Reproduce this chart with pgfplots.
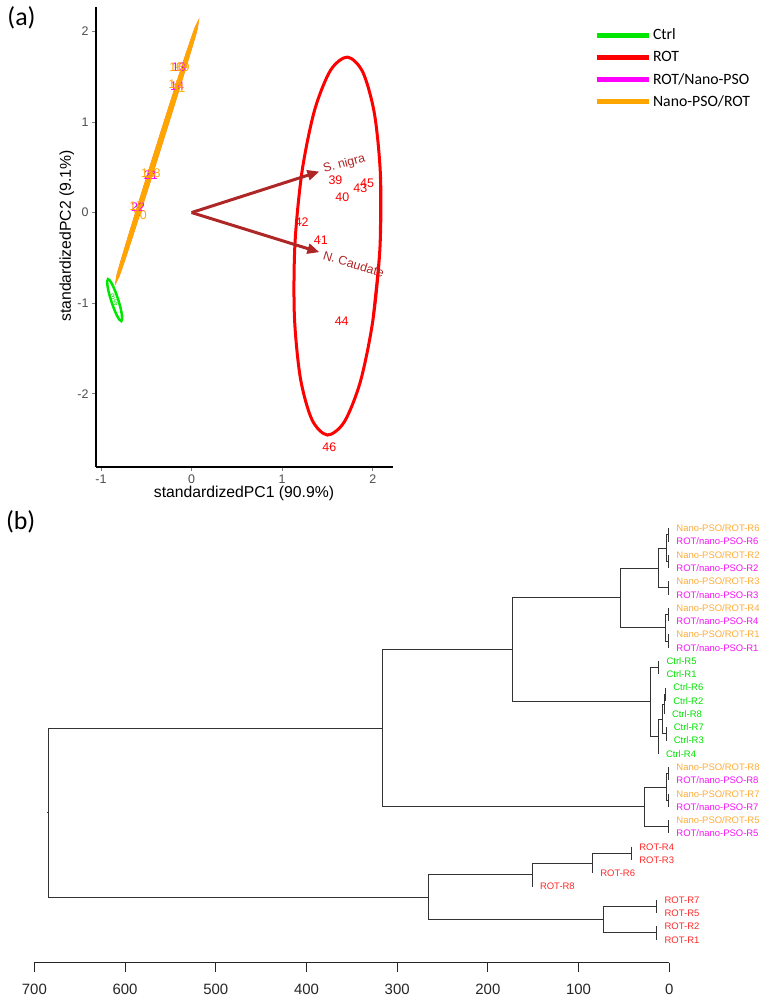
\documentclass[border=0pt]{standalone}
\usepackage{pgfplots}
\pgfplotsset{compat=1.18}
\usepackage{fontspec}
\setmainfont{Liberation Sans}
\newfontfamily\calibri{Carlito}
\usetikzlibrary{arrows.meta}
\definecolor{cgreen}{RGB}{0,230,0}
\definecolor{cred}{RGB}{255,0,0}
\definecolor{cmag}{RGB}{255,0,255}
\definecolor{corange}{RGB}{255,165,0}
\definecolor{cbrown}{RGB}{175,38,38}
\definecolor{lorange}{RGB}{255,172,55}
\definecolor{lmag}{RGB}{245,20,245}
\definecolor{lgreen}{RGB}{0,225,0}
\definecolor{lred}{RGB}{255,40,40}
\newcommand{\fs}[1]{\fontsize{#1}{#1}\selectfont}
\newcommand{\lf}[4]{\node[anchor=base west, xshift=7.5bp, yshift=-3.4bp, inner sep=0pt, text=#3, font=\fs{9.5}] at (axis cs:#1,#2) {#4};}
\pgfplotsset{
  lbl/.style={only marks, mark=*, mark size=0.01pt, mark options={draw=none,fill=none}, forget plot,
    nodes near coords, point meta=explicit symbolic,
    every node near coord/.append style={anchor=center, font=\fs{12.5}, text=#1, inner sep=0pt}},
  dl/.style={black!80, line width=1bp, forget plot, mark=none},
}
\begin{document}
\begin{tikzpicture}
\useasboundingbox (0,0) rectangle (767bp,-1004bp);
\node[font=\calibri\fs{26}] at (21.5bp,-18.3bp) {(a)};
\node[font=\calibri\fs{26}] at (20.7bp,-521.7bp) {(b)};
\node[font=\fs{15.8}] at (244bp,-493bp) {standardizedPC1 (90.9\%)};
\node[font=\fs{15.8}, rotate=90] at (66.7bp,-236bp) {standardizedPC2 (9.1\%)};

\begin{axis}[
  at={(96bp,-467bp)}, anchor=south west,
  scale only axis, width=296.7bp, height=460bp,
  xmin=-1.055, xmax=2.22, ymin=-2.81, ymax=2.27,
  enlargelimits=false, clip=false,
  axis x line=bottom, axis y line=left,
  axis line style={black, line width=1.1bp, -},
  xtick={-1,0,1,2}, xticklabels={-1,0,1,2},
  ytick={-2,-1,0,1,2}, yticklabels={-2,-1,0,1,2},
  tick align=outside, major tick length=4bp,
  tick style={black!50, line width=0.8bp},
  ticklabel style={font=\fs{12.5}, text=black!70},
  legend image code/.code={\draw[#1] (0bp,0bp) -- (52bp,0bp);},
  legend cell align=left,
  legend style={draw=none, fill=none, at={(1.678,0.957)}, anchor=north west,
    font=\calibri\fs{15.8}, row sep=6bp, inner sep=0pt},
]
% ellipses
\addplot[cgreen, line width=2.5bp, smooth, forget plot] coordinates {
(-0.843,-0.8676) (-0.8119,-0.9551) (-0.7864,-1.0444) (-0.7705,-1.1219) (-0.7665,-1.1758)
(-0.7751,-1.198) (-0.7949,-1.185) (-0.8229,-1.1387) (-0.855,-1.0664) (-0.8861,-0.9789)
(-0.9116,-0.8896) (-0.9275,-0.8121) (-0.9315,-0.7582) (-0.9229,-0.736) (-0.9031,-0.749)
(-0.8751,-0.7953) (-0.843,-0.8676) (-0.8119,-0.9551) (-0.7864,-1.0444)};
\addplot[cred, line width=3bp, smooth, forget plot] coordinates {
(2.085,0.406) (2.079,-0.395) (2.001,-1.192) (1.864,-1.864) (1.688,-2.308) (1.500,-2.457)
(1.329,-2.288) (1.201,-1.828) (1.135,-1.146) (1.141,-0.345) (1.219,0.452) (1.356,1.124)
(1.532,1.568) (1.720,1.717) (1.891,1.549) (2.019,1.088) (2.085,0.406) (2.079,-0.395) (2.001,-1.192)};
\addplot[cmag, line width=2.5bp, smooth, forget plot] coordinates {
(-0.2006,1.194) (-0.3662,0.6655) (-0.534,0.1377) (-0.6783,-0.309) (-0.7774,-0.6067) (-0.816,-0.710)
(-0.7884,-0.6033) (-0.6985,-0.3026) (-0.5604,0.1461) (-0.3948,0.6745) (-0.227,1.2023) (-0.0827,1.6516)
(0.0164,1.9467) (0.055,2.050) (0.0274,1.943) (-0.0625,1.643) (-0.2006,1.194) (-0.3662,0.6655) (-0.534,0.1377)};
\addplot[corange, line width=3bp, smooth, forget plot] coordinates {
(-0.2006,1.194) (-0.3662,0.6655) (-0.534,0.1377) (-0.6783,-0.309) (-0.7774,-0.6067) (-0.816,-0.710)
(-0.7884,-0.6033) (-0.6985,-0.3026) (-0.5604,0.1461) (-0.3948,0.6745) (-0.227,1.2023) (-0.0827,1.6516)
(0.0164,1.9467) (0.055,2.050) (0.0274,1.943) (-0.0625,1.643) (-0.2006,1.194) (-0.3662,0.6655) (-0.534,0.1377)};
% point labels
\addplot[lbl=cmag] table[meta=l] {
x y l
-0.14 1.600 13
-0.16 1.400 14
-0.45 0.410 21
-0.59 0.060 22
};
\addplot[lbl=corange] table[meta=l] {
x y l
-0.17 1.605 16
-0.10 1.605 19
-0.18 1.420 12
-0.14 1.370 11
-0.48 0.430 15
-0.42 0.430 18
-0.61 0.070 17
-0.57 -0.030 20
};
\addplot[lbl=cgreen, every node near coord/.append style={font=\fs{8}}] table[meta=l] {
x y l
-0.87 -0.93 3
-0.84 -1.00 5
};
\addplot[lbl=cred] table[meta=l] {
x y l
1.588 0.358 39
1.937 0.325 45
1.863 0.270 43
1.665 0.170 40
1.216 -0.106 42
1.426 -0.300 41
1.657 -1.204 44
1.521 -2.586 46
};
% loadings
\addplot[cbrown, line width=3bp, -{Triangle[length=12bp,width=10bp]}, forget plot] coordinates {(0,0) (1.411,0.453)};
\addplot[cbrown, line width=3bp, -{Triangle[length=12bp,width=10bp]}, forget plot] coordinates {(0,0) (1.411,-0.438)};
\node[anchor=west, rotate=15, text=cbrown, font=\fs{12.5}, inner sep=0pt] at (axis cs:1.455,0.472) {S. nigra};
\node[anchor=west, rotate=-17, text=cbrown, font=\fs{12.5}, inner sep=0pt] at (axis cs:1.455,-0.467) {N. Caudate};
% legend
\addlegendimage{cgreen, line width=5bp}
\addlegendimage{cred, line width=5bp}
\addlegendimage{cmag, line width=5bp}
\addlegendimage{corange, line width=5bp}
\legend{Ctrl, ROT, ROT/Nano-PSO, Nano-PSO/ROT}
\end{axis}

\begin{axis}[
  at={(34.4bp,-962.7bp)}, anchor=south west,
  scale only axis, width=634.9bp, height=447.7bp,
  xmin=0, xmax=700, ymin=-32.74, ymax=1, x dir=reverse,
  enlargelimits=false, clip=false,
  axis x line=bottom, axis y line=none, ytick=\empty,
  axis line style={black!85, line width=1bp, -},
  xtick={0,100,200,300,400,500,600,700},
  xticklabels={0,100,200,300,400,500,600,700},
  tick align=outside, major tick length=9bp,
  tick style={black!85, line width=1bp},
  xticklabel style={font=\fs{15}, text=black!85, yshift=-8.5bp},
]
\addplot[dl] coordinates {(0.6,0) (0.6,-1)};
\addplot[dl] coordinates {(0.6,-2) (0.6,-3)};
\addplot[dl] coordinates {(0.6,-0.5) (2.9,-0.5) (2.9,-2.5) (0.6,-2.5)};
\addplot[dl] coordinates {(0.6,-4) (0.6,-5)};
\addplot[dl] coordinates {(2.9,-1.5) (11.4,-1.5) (11.4,-4.5) (0.6,-4.5)};
\addplot[dl] coordinates {(0.6,-6) (0.6,-7)};
\addplot[dl] coordinates {(0.6,-8) (0.6,-9)};
\addplot[dl] coordinates {(0.6,-6.5) (4,-6.5) (4,-8.5) (0.6,-8.5)};
\addplot[dl] coordinates {(11.4,-3) (53.3,-3) (53.3,-7.5) (4,-7.5)};
\addplot[dl] coordinates {(11.5,-10) (11.5,-11)};
\addplot[dl] coordinates {(4,-12) (4,-13)};
\addplot[dl] coordinates {(4,-12.5) (5.5,-12.5) (5.5,-14)};
\addplot[dl] coordinates {(3.5,-15) (3.5,-16)};
\addplot[dl] coordinates {(5.5,-13.25) (8,-13.25) (8,-15.5) (3.5,-15.5)};
\addplot[dl] coordinates {(8,-14.375) (12,-14.375) (12,-17)};
\addplot[dl] coordinates {(11.5,-10.5) (21,-10.5) (21,-15.6875) (12,-15.6875)};
\addplot[dl] coordinates {(0.6,-18) (0.6,-19)};
\addplot[dl] coordinates {(0.6,-20) (0.6,-21)};
\addplot[dl] coordinates {(0.6,-18.5) (2.9,-18.5) (2.9,-20.5) (0.6,-20.5)};
\addplot[dl] coordinates {(0.6,-22) (0.6,-23)};
\addplot[dl] coordinates {(2.9,-19.5) (27.2,-19.5) (27.2,-22.5) (0.6,-22.5)};
\addplot[dl] coordinates {(53.3,-5.25) (172.5,-5.25) (172.5,-13.09) (21,-13.09)};
\addplot[dl] coordinates {(172.5,-9.17) (316,-9.17) (316,-21) (27.2,-21)};
\addplot[dl] coordinates {(41.5,-24) (41.5,-25)};
\addplot[dl] coordinates {(41.5,-24.5) (84.5,-24.5) (84.5,-26)};
\addplot[dl] coordinates {(84.5,-25.25) (151,-25.25) (151,-27)};
\addplot[dl] coordinates {(13.6,-28) (13.6,-29)};
\addplot[dl] coordinates {(13.6,-30) (13.6,-31)};
\addplot[dl] coordinates {(13.6,-28.5) (72.8,-28.5) (72.8,-30.5) (13.6,-30.5)};
\addplot[dl] coordinates {(151,-26.125) (265.7,-26.125) (265.7,-29.5) (72.8,-29.5)};
\addplot[dl] coordinates {(316,-15.085) (684,-15.085) (684,-27.81) (265.7,-27.81)};
\addplot[dl] coordinates {(684,-21.45) (686,-21.45)};
% leaf labels
\lf{0.6}{0}{lorange}{Nano-PSO/ROT-R6}
\lf{0.6}{-1}{lmag}{ROT/nano-PSO-R6}
\lf{0.6}{-2}{lorange}{Nano-PSO/ROT-R2}
\lf{0.6}{-3}{lmag}{ROT/nano-PSO-R2}
\lf{0.6}{-4}{lorange}{Nano-PSO/ROT-R3}
\lf{0.6}{-5}{lmag}{ROT/nano-PSO-R3}
\lf{0.6}{-6}{lorange}{Nano-PSO/ROT-R4}
\lf{0.6}{-7}{lmag}{ROT/nano-PSO-R4}
\lf{0.6}{-8}{lorange}{Nano-PSO/ROT-R1}
\lf{0.6}{-9}{lmag}{ROT/nano-PSO-R1}
\lf{11.5}{-10}{lgreen}{Ctrl-R5}
\lf{11.5}{-11}{lgreen}{Ctrl-R1}
\lf{4}{-12}{lgreen}{Ctrl-R6}
\lf{4}{-13}{lgreen}{Ctrl-R2}
\lf{5.5}{-14}{lgreen}{Ctrl-R8}
\lf{3.5}{-15}{lgreen}{Ctrl-R7}
\lf{3.5}{-16}{lgreen}{Ctrl-R3}
\lf{12}{-17}{lgreen}{Ctrl-R4}
\lf{0.6}{-18}{lorange}{Nano-PSO/ROT-R8}
\lf{0.6}{-19}{lmag}{ROT/nano-PSO-R8}
\lf{0.6}{-20}{lorange}{Nano-PSO/ROT-R7}
\lf{0.6}{-21}{lmag}{ROT/nano-PSO-R7}
\lf{0.6}{-22}{lorange}{Nano-PSO/ROT-R5}
\lf{0.6}{-23}{lmag}{ROT/nano-PSO-R5}
\lf{41.5}{-24}{lred}{ROT-R4}
\lf{41.5}{-25}{lred}{ROT-R3}
\lf{84.5}{-26}{lred}{ROT-R6}
\lf{151}{-27}{lred}{ROT-R8}
\lf{13.6}{-28}{lred}{ROT-R7}
\lf{13.6}{-29}{lred}{ROT-R5}
\lf{13.6}{-30}{lred}{ROT-R2}
\lf{13.6}{-31}{lred}{ROT-R1}
\end{axis}
\end{tikzpicture}
\end{document}
